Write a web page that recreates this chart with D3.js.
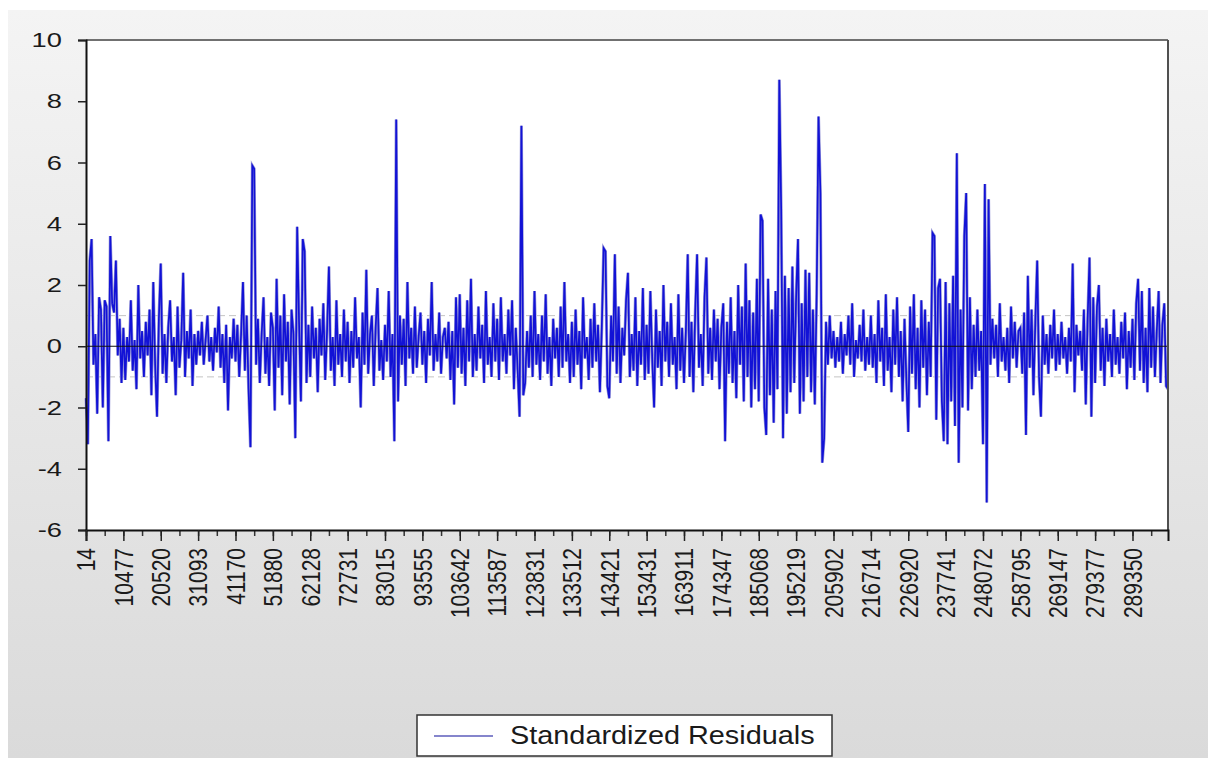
<!DOCTYPE html>
<html>
<head>
<meta charset="utf-8">
<script src="https://cdn.jsdelivr.net/npm/d3@7"></script>
<style>
  html, body { margin: 0; padding: 0; background: #ffffff; }
  svg { display: block; }
</style>
</head>
<body>
<svg id="chart" width="1208" height="758"></svg>
<script>
// ---- data ----
const seriesName = "Standardized Residuals";
const tickLabels = ["14","10477","20520","31093","41170","51880","62128","72731","83015","93555",
  "103642","113587","123831","133512","143421","153431","163911","174347","185068","195219",
  "205902","216714","226920","237741","248072","258795","269147","279377","289350"];
const yTicks = [-6,-4,-2,0,2,4,6,8,10];
const residuals = [
  -1.7,-3.2,2.8,3.5,-0.6,0.4,-2.2,1.6,1.2,-2.0,1.5,1.3,-3.1,3.6,1.4,1.1,2.8,-0.3,0.9,-1.2,
  0.6,-1.1,0.3,-0.5,1.5,-0.8,0.2,-1.4,2.0,-0.4,0.5,-1.0,0.8,-0.3,1.2,-1.6,2.1,-0.6,-2.3,0.9,
  2.7,-0.9,0.4,-1.2,0.6,1.5,-0.5,0.3,-1.6,1.3,-0.7,0.2,2.4,-1.0,0.5,-0.4,1.2,-1.3,0.4,-0.6,
  0.5,-0.3,0.8,-0.6,0.2,1.0,-0.5,0.3,-0.8,0.6,-0.2,1.3,-0.7,0.4,-1.2,0.7,-2.1,0.3,-0.4,0.9,
  -0.5,0.7,-1.0,0.4,2.1,-0.8,1.0,-1.4,-3.3,5.9,5.8,-0.6,0.9,-1.2,0.4,1.6,-0.9,0.3,-1.3,1.1,
  0.6,-2.1,2.2,-0.7,1.0,-1.6,1.7,-0.5,0.8,-1.9,1.2,0.4,-3.0,3.9,0.8,-1.8,3.5,3.1,-1.2,0.7,
  -1.0,1.3,-0.4,0.6,-1.5,0.9,-0.3,1.4,-1.1,0.5,2.6,-0.8,0.3,-1.3,1.5,-0.6,0.4,-1.0,1.2,-0.5,
  0.8,-1.2,0.5,-0.7,1.6,-0.4,0.3,-2.0,1.1,-0.6,2.5,-0.9,0.4,1.0,-1.3,0.6,1.9,-0.8,0.2,-1.1,
  0.7,-0.5,1.8,-1.0,0.4,-3.1,7.4,-1.8,1.0,-0.6,0.9,-1.3,2.1,-0.4,0.6,-0.9,1.3,-0.7,0.3,1.1,
  -0.6,0.5,-1.2,0.9,-0.3,2.1,-0.8,0.4,-0.5,1.1,-0.9,0.3,0.6,-0.4,0.8,-1.1,0.5,-1.9,1.6,-0.7,
  1.7,-0.9,0.6,-1.3,1.5,-0.5,2.2,-1.0,0.4,-0.8,1.3,-0.4,0.7,-1.2,1.8,-0.6,0.3,-1.0,1.4,-0.5,
  0.9,-1.1,1.6,-0.5,0.4,-0.9,1.2,-0.3,1.5,-1.4,0.6,-0.8,-2.3,7.2,-1.6,-1.2,0.5,-0.7,1.0,-1.0,
  1.8,-0.6,0.4,-1.1,1.0,-0.5,1.7,-0.9,0.3,-1.3,0.9,-0.4,0.6,-1.0,1.3,-0.7,2.1,-0.5,0.4,-1.2,
  0.8,-1.0,1.2,-0.6,0.5,-1.4,1.6,-0.4,0.3,-1.1,0.9,-0.7,1.4,-0.5,0.7,-1.5,0.6,3.2,3.1,-1.3,
  -1.7,1.0,-0.5,3.0,-0.9,1.3,-1.2,0.6,-0.3,1.5,2.4,-1.0,0.4,-0.8,1.6,-1.3,0.5,-0.6,1.9,-1.1,
  0.7,-0.9,1.8,-0.4,-2.0,1.2,-0.7,0.5,-1.3,2.0,-0.5,0.8,-1.0,1.4,-0.6,0.3,-1.4,1.7,-0.8,0.6,
  -1.2,0.5,3.0,-1.0,0.8,-1.5,1.1,3.0,-0.7,0.4,-1.3,1.6,2.9,-0.9,0.6,-1.1,1.2,-0.5,0.9,-1.4,
  0.6,1.4,-3.1,0.8,-0.9,1.6,-1.2,0.5,-1.7,2.0,-0.6,1.3,-1.8,2.7,-1.0,1.5,-2.0,1.1,-1.4,2.2,
  -1.8,4.3,4.1,-2.0,-2.9,2.2,-1.6,1.2,-2.5,1.8,-1.4,8.7,4.5,-3.0,2.3,-2.2,1.9,-1.5,2.6,-1.2,
  1.6,3.5,-2.2,1.4,-1.8,2.5,-1.0,2.4,-1.5,1.2,-1.9,1.7,7.5,5.0,-3.8,-3.0,0.8,-0.6,1.0,-0.4,
  0.5,-0.7,0.3,-0.5,0.8,-0.9,0.4,-0.3,1.0,-0.6,1.4,-1.0,0.2,-0.4,0.7,-0.5,1.2,-0.8,0.3,-0.6,
  1.0,-0.7,0.4,-1.2,1.5,-0.5,0.6,-1.3,1.7,-0.8,0.3,-1.5,1.2,-0.6,1.6,-1.0,0.5,-1.8,0.9,-1.1,
  -2.8,1.3,-0.9,1.7,-1.4,0.6,-2.0,1.5,-0.7,1.2,-1.6,0.8,-1.0,3.7,3.6,-2.4,1.9,2.2,-1.8,-3.1,
  2.1,-3.2,1.4,-1.8,2.3,-2.6,6.3,-3.8,1.2,-2.0,3.6,5.0,-2.1,1.6,-1.4,0.7,-1.0,1.2,-0.8,0.5,
  -3.2,5.3,-5.1,4.8,-0.6,0.9,-0.4,0.7,-1.0,1.4,-0.5,0.3,-0.8,0.6,-1.2,1.3,-0.4,0.8,-0.7,0.5,
  0.6,-0.9,1.1,-2.9,2.3,-0.7,1.2,-1.6,0.8,2.8,-1.0,-2.3,1.0,-0.6,0.4,-0.9,0.7,-0.4,1.2,-0.8,
  0.4,-0.6,0.8,-0.4,0.3,-0.9,0.6,-0.5,2.7,-1.5,0.7,-0.3,0.5,-0.8,1.2,-1.9,0.9,2.9,-2.3,1.6,
  -1.2,1.3,2.0,-0.8,0.6,-1.3,0.9,-0.5,0.4,-1.0,1.2,-0.6,0.3,-0.9,0.8,-0.4,1.1,-1.4,0.5,-0.7,
  0.9,-1.1,1.4,2.2,-0.8,1.8,-1.2,0.6,-1.5,1.9,-0.7,1.3,-1.0,0.5,1.8,-1.2,0.7,1.4,-1.3,-1.4
];
const labelEvery = 20;   // observations per labelled tick
const minorEvery = 10;

// ---- layout ----
const svg = d3.select("#chart");
const W = 1208, H = 758;
const plot = { left: 86, right: 1168, top: 40, bottom: 530 };
const FONT = "Liberation Sans, Arial, sans-serif";

const defs = svg.append("defs");
const grad = defs.append("linearGradient").attr("id", "bg").attr("x1", 0).attr("y1", 0).attr("x2", 0).attr("y2", 1);
grad.append("stop").attr("offset", "0%").attr("stop-color", "#f4f4f4");
grad.append("stop").attr("offset", "100%").attr("stop-color", "#dadada");

svg.append("rect").attr("x", 8).attr("y", 10).attr("width", W - 8).attr("height", H - 10).attr("fill", "url(#bg)");

const x = d3.scaleLinear().domain([0, residuals.length - 1]).range([plot.left, plot.right]);
const y = d3.scaleLinear().domain([-6, 10]).range([plot.bottom, plot.top]);

// plot area
svg.append("rect").attr("x", plot.left).attr("y", plot.top)
  .attr("width", plot.right - plot.left).attr("height", plot.bottom - plot.top)
  .attr("fill", "#ffffff");

// reference lines at +/-1
[-1, 1].forEach(v => {
  svg.append("line").attr("x1", plot.left).attr("x2", plot.right)
    .attr("y1", y(v)).attr("y2", y(v))
    .attr("stroke", "#c4c4c4").attr("stroke-width", 1).attr("stroke-dasharray", "7,4");
});

// series line: soft halo + core
const line = d3.line().x((d, i) => x(i)).y(d => y(d));
svg.append("path").datum(residuals)
  .attr("d", line)
  .attr("fill", "none")
  .attr("stroke", "#9a9ad8")
  .attr("stroke-width", 3);
svg.append("path").datum(residuals)
  .attr("d", line)
  .attr("fill", "none")
  .attr("stroke", "#1212d6")
  .attr("stroke-width", 1.7);

// zero line
svg.append("line").attr("x1", plot.left).attr("x2", plot.right)
  .attr("y1", y(0)).attr("y2", y(0)).attr("stroke", "#111").attr("stroke-width", 1);

// frame: top & right grey, left & bottom black
svg.append("line").attr("x1", plot.left).attr("x2", plot.right).attr("y1", plot.top).attr("y2", plot.top)
  .attr("stroke", "#707070").attr("stroke-width", 2);
svg.append("line").attr("x1", plot.right).attr("x2", plot.right).attr("y1", plot.top).attr("y2", plot.bottom)
  .attr("stroke", "#505050").attr("stroke-width", 2);

// y axis
const yAxis = d3.axisLeft(y).tickValues(yTicks).tickSize(8).tickPadding(0).tickFormat(d => String(d));
const gy = svg.append("g").attr("transform", `translate(${plot.left},0)`).call(yAxis);
gy.select(".domain").attr("stroke", "#111").attr("stroke-width", 2);
gy.selectAll(".tick line").attr("stroke", "#222").attr("stroke-width", 1.5);
gy.selectAll("text").attr("font-family", FONT).attr("font-size", 21).attr("fill", "#1a1a1a")
  .attr("x", -18.5).attr("transform", "scale(1.3,1)");

// x axis: minor ticks
const minorIdx = d3.range(0, residuals.length, minorEvery);
const gxm = svg.append("g").attr("transform", `translate(0,${plot.bottom})`)
  .call(d3.axisBottom(x).tickValues(minorIdx).tickSize(6).tickFormat(""));
gxm.select(".domain").remove();
gxm.selectAll(".tick line").attr("stroke", "#333").attr("stroke-width", 1.5);

// x axis: major labelled ticks
const majorIdx = tickLabels.map((_, i) => i * labelEvery);
const xAxis = d3.axisBottom(x).tickValues(majorIdx).tickSize(11).tickPadding(6)
  .tickFormat((d, i) => tickLabels[i]);
const gx = svg.append("g").attr("transform", `translate(0,${plot.bottom})`).call(xAxis);
gx.select(".domain").attr("stroke", "#111").attr("stroke-width", 2);
gx.selectAll(".tick line").attr("stroke", "#222").attr("stroke-width", 1.5);
gx.selectAll("text")
  .attr("font-family", FONT).attr("font-size", 21).attr("fill", "#1a1a1a")
  .attr("text-anchor", "end").attr("dy", "0.35em")
  .attr("transform", "translate(0,18) scale(1.2,1) rotate(-90)")
  .attr("x", 0).attr("y", 0);

// legend
const lg = svg.append("g");
lg.append("rect").attr("x", 417).attr("y", 715).attr("width", 415).attr("height", 41)
  .attr("fill", "#ffffff").attr("stroke", "#333").attr("stroke-width", 1.5);
lg.append("line").attr("x1", 434).attr("x2", 493).attr("y1", 736).attr("y2", 736)
  .attr("stroke", "#8585cc").attr("stroke-width", 2);
lg.append("text").attr("transform", "translate(510,744) scale(1.11,1)").text(seriesName)
  .attr("font-family", FONT).attr("font-size", 26).attr("fill", "#1a1a1a");
</script>
</body>
</html>
